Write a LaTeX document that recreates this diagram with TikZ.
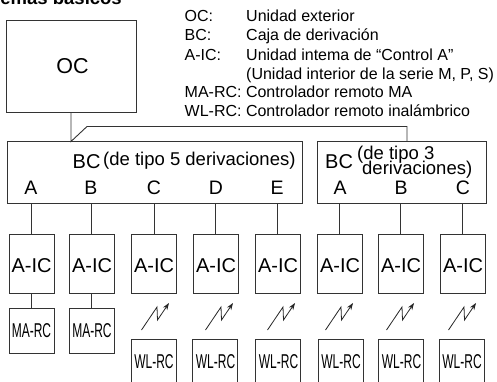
\documentclass[tikz,border=0pt]{standalone}
\usepackage{fontspec}
\setmainfont{Liberation Sans}
\usetikzlibrary{arrows.meta}
\tikzset{
  x=1pt,y=-1pt,
  box/.style={draw=black!80,line width=0.9pt,inner sep=0pt,outer sep=0pt,anchor=north west},
  wire/.style={draw=black!80,line width=0.9pt},
  zap/.style={draw=black!85,line width=0.8pt,-{Stealth[length=7pt,width=5pt]}},
  lg/.style={anchor=base west,inner sep=0pt,font=\fontsize{16}{17}\selectfont},
  big/.style={anchor=base,inner sep=0pt,font=\fontsize{19.5}{20}\selectfont},
  mid/.style={anchor=base west,inner sep=0pt,font=\fontsize{18.5}{20}\selectfont},
  bclab/.style={anchor=base west,inner sep=0pt,font=\fontsize{20}{22}\selectfont},
  aic/.style={inner sep=0pt,font=\fontsize{20}{22}\selectfont},
  rc/.style={inner sep=0pt,font=\fontsize{20}{22}\selectfont,xscale=0.6},
}
\begin{document}
\begin{tikzpicture}
\useasboundingbox (0,0) rectangle (497,381);
\clip (0,0) rectangle (497,381);
\node[anchor=base east,inner sep=0pt,font=\bfseries\fontsize{18.5}{20}\selectfont] (title) at (122,4) {emas básicos};
% legend
\node[lg] (l1) at (184.5,21.5) {OC:};
\node[lg] (l1b) at (246,21.5) {Unidad exterior};
\node[lg] (l2) at (184.5,40.5) {BC:};
\node[lg] (l2b) at (246,40.5) {Caja de derivación};
\node[lg] (l3) at (184.5,60) {A-IC:};
\node[lg] (l3b) at (246,60) {Unidad intema de “Control A”};
\node[lg] (l3c) at (246,79) {(Unidad interior de la serie M, P, S)};
\node[lg] (l4) at (184.5,97.5) {MA-RC: Controlador remoto MA};
\node[lg] (l5) at (184.5,116) {WL-RC: Controlador remoto inalámbrico};
% main boxes
\node[box,minimum width=129.5pt,minimum height=91.5pt] (oc) at (6.5,20.5) {};
\node[font=\fontsize{21.5}{23}\selectfont,inner sep=0pt] (octxt) at (72.5,66.5) {OC};
\node[box,minimum width=294.5pt,minimum height=62pt] (bc5) at (7.5,141.5) {};
\node[box,minimum width=169.5pt,minimum height=62pt] (bc3) at (317,141.5) {};
\coordinate (top5) at (71,141.5);
\coordinate (top5b) at (71,112);
\coordinate (k1) at (87,126.5);
\coordinate (k2) at (407,126.5);
\coordinate (top3) at (407,141.5);
\draw[wire] (top5b) -- (top5) -- (k1) -- (k2) -- (top3);
% BC labels
\node[bclab] (bc5l) at (72.5,168) {BC};
\node[mid] (bc5t) at (103,165) {(de tipo 5 derivaciones)};
\node[bclab] (bc3l) at (325,168) {BC};
\node[mid] (bc3t) at (357,159) {(de tipo 3};
\node[mid] (bc3u) at (362,174) {derivaciones)};
\foreach \n/\t/\x in {a/A/31,b/B/91,c/C/154,d/D/216,e/E/277,f/A/340,g/B/401,h/C/463}
  \node[big] (p\n) at (\x,194) {\t};
% indoor units
\foreach \n/\x/\lx in {1/9/31,2/69.5/91,3/131.5/154,4/193.5/215.5,5/255.5/277.5,6/317.5/339.5,7/378.5/400.5,8/440.5/462.5}{
  \node[box,minimum width=45pt,minimum height=59pt] (ic\n) at (\x,234) {};
  \node[aic] (ict\n) at (\x+22.5,266) {A-IC};
  \coordinate (u\n) at (\lx,203.5);
  \coordinate (v\n) at (\lx,234);
  \draw[wire] (u\n) -- (v\n);
}
% MA-RC
\foreach \n/\x/\lx in {1/9/31,2/69.5/91}{
  \node[box,minimum width=45pt,minimum height=45.5pt] (ma\n) at (\x,308) {};
  \node[rc] (mat\n) at (\x+22.5,331) {MA-RC};
  \coordinate (w\n) at (\lx,293);
  \coordinate (y\n) at (\lx,308);
  \draw[wire] (w\n) -- (y\n);
}
% WL-RC
\foreach \n/\x/\zx in {3/131/141.5,4/192.5/205.5,5/255.5/267.5,6/318/325.5,7/378.5/386.5,8/439/448.5}{
  \node[box,minimum width=45pt,minimum height=60pt] (wl\n) at (\x,339) {};
  \node[rc] (wlt\n) at (\x+23,362) {WL-RC};
  \coordinate (z\n) at (\zx,330);
  \coordinate (z\n a) at (\zx+15.5,307);
  \coordinate (z\n b) at (\zx+16,320);
  \coordinate (z\n c) at (\zx+27.5,303);
  \draw[zap] (z\n) -- (z\n a) -- (z\n b) -- (z\n c);
}
\end{tikzpicture}
\end{document}
